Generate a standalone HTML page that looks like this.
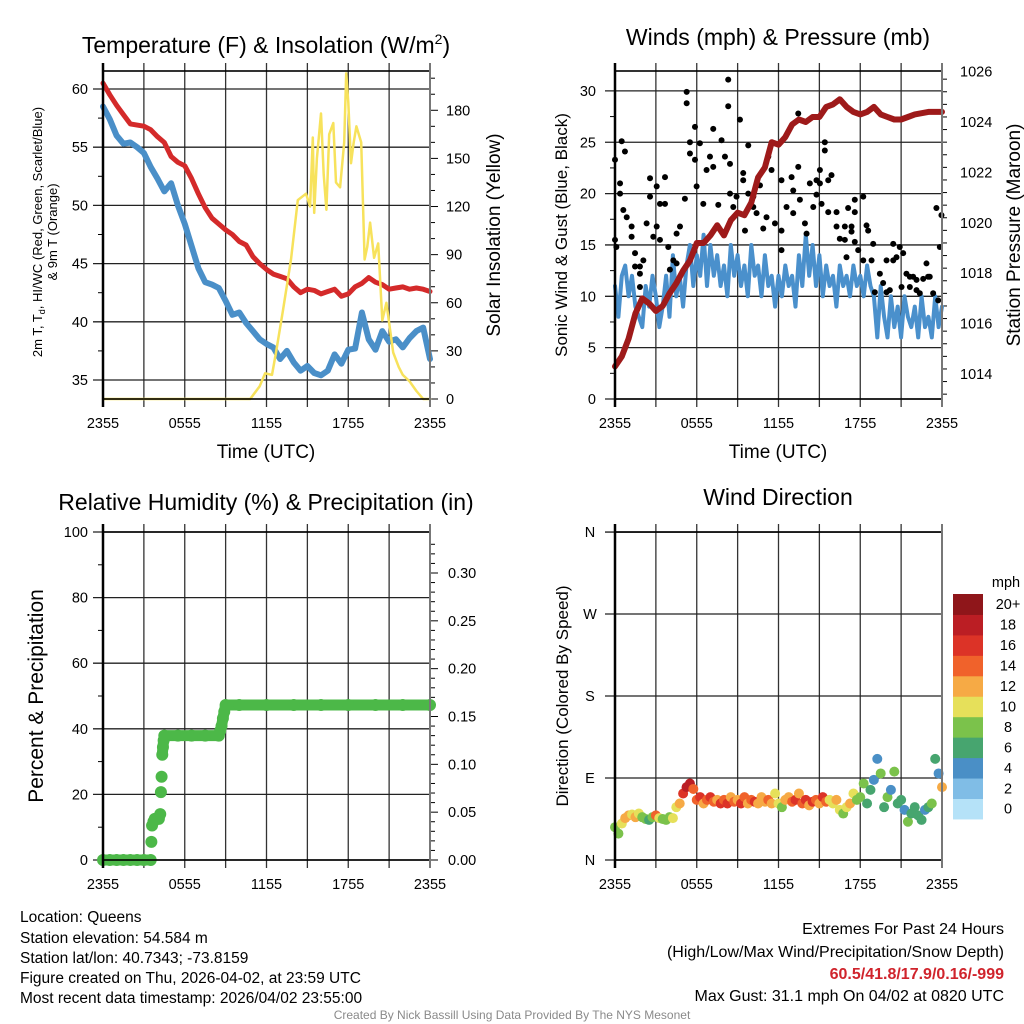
<!DOCTYPE html>
<html><head><meta charset="utf-8"><style>
html,body{margin:0;padding:0;background:#fff}
svg{display:block;font-family:"Liberation Sans",Arial,sans-serif}
</style></head><body>
<svg id="fig" width="1024" height="1024" viewBox="0 0 1024 1024" xmlns="http://www.w3.org/2000/svg">
<rect width="1024" height="1024" fill="#fff"/>
<g id="p1"></g>
<g id="p2"></g>
<g id="p3"></g>
<g id="p4"></g>
<text x="266" y="53" font-size="23" text-anchor="middle">Temperature (F) &amp; Insolation (W/m<tspan font-size="14" dy="-9">2</tspan><tspan dy="9">)</tspan></text>
<text x="778" y="45" font-size="23" text-anchor="middle">Winds (mph) &amp; Pressure (mb)</text>
<text x="266" y="510" font-size="23" text-anchor="middle">Relative Humidity (%) &amp; Precipitation (in)</text>
<text x="778" y="505" font-size="23" text-anchor="middle">Wind Direction</text>
<text x="266" y="458" font-size="19" text-anchor="middle">Time (UTC)</text>
<text x="778" y="458" font-size="19" text-anchor="middle">Time (UTC)</text>
<text transform="translate(42,232) rotate(-90)" font-size="13" text-anchor="middle">2m T, T<tspan font-size="9" dy="3">d</tspan><tspan dy="-3">, HI/WC (Red, Green, Scarlet/Blue)</tspan></text>
<text transform="translate(57,232) rotate(-90)" font-size="13" text-anchor="middle">&amp; 9m T (Orange)</text>
<text transform="translate(500,235) rotate(-90)" font-size="19" text-anchor="middle">Solar Insolation (Yellow)</text>
<text transform="translate(567,235) rotate(-90)" font-size="17" text-anchor="middle">Sonic Wind &amp; Gust (Blue, Black)</text>
<text transform="translate(1020,235) rotate(-90)" font-size="19" text-anchor="middle">Station Pressure (Maroon)</text>
<text transform="translate(43,696) rotate(-90)" font-size="21" text-anchor="middle">Percent &amp; Precipitation</text>
<text transform="translate(568,696) rotate(-90)" font-size="17" text-anchor="middle">Direction (Colored By Speed)</text>
<g font-size="15.5">
<text x="20" y="922">Location: Queens</text>
<text x="20" y="943">Station elevation: 54.584 m</text>
<text x="20" y="963">Station lat/lon: 40.7343; -73.8159</text>
<text x="20" y="983">Figure created on Thu, 2026-04-02, at 23:59 UTC</text>
<text x="20" y="1003">Most recent data timestamp: 2026/04/02 23:55:00</text>
</g>
<g font-size="16" text-anchor="end">
<text x="1004" y="934">Extremes For Past 24 Hours</text>
<text x="1004" y="957">(High/Low/Max Wind/Precipitation/Snow Depth)</text>
<text x="1004" y="979" fill="#d0242c" font-weight="bold">60.5/41.8/17.9/0.16/-999</text>
<text x="1004" y="1001">Max Gust: 31.1 mph On 04/02 at 0820 UTC</text>
</g>
<text x="512" y="1019" font-size="12" fill="#8a8a8a" text-anchor="middle">Created By Nick Bassill Using Data Provided By The NYS Mesonet</text>
</svg>
<script>
const timeTicks = ["2355","0555","1155","1755","2355"];
const tempHours = [0,0.5,1,1.5,2,2.5,3,3.5,4,4.5,5,5.5,6,6.5,7,7.5,8,8.5,9,9.5,10,10.5,11,11.5,12,12.5,13,13.5,14,14.5,15,15.5,16,16.5,17,17.5,18,18.5,19,19.5,20,20.5,21,21.5,22,22.5,23,23.5,24];
const tempVals = [60.5,59.5,58.6,57.8,57.0,56.9,56.8,56.5,55.9,55.4,54.2,53.7,53.4,52.3,51.0,49.8,48.9,48.4,47.9,47.5,46.9,46.6,45.6,45.0,44.5,44.1,43.9,43.7,43.0,42.5,42.8,42.7,42.4,42.6,42.8,42.2,42.4,43.0,43.3,43.8,43.4,43.2,42.8,42.9,43.0,42.8,42.9,42.8,42.6];
const dewVals = [58.5,57.4,56.0,55.3,55.4,55.0,54.5,53.3,52.3,51.2,51.9,50.0,48.4,46.5,44.6,43.4,43.2,42.9,41.8,40.6,40.8,39.9,39.2,38.5,38.1,37.8,36.8,37.5,36.5,35.8,36.2,35.6,35.4,35.8,37.2,36.4,37.6,37.7,40.8,38.5,37.6,39.2,38.3,38.5,37.8,38.6,39.2,39.5,36.8];
const tempTicks = [35,40,45,50,55,60];
const solarHours = [0,10.8,11.5,11.9,12.4,12.7,13.2,13.8,14.3,14.9,15.2,15.4,15.5,15.7,16.0,16.2,16.4,16.6,16.9,17.1,17.4,17.7,17.85,18.0,18.2,18.4,18.6,18.95,19.2,19.4,19.6,19.9,20.2,20.5,20.8,21.3,21.7,22.0,22.5,23.0,23.5,24];
const solarVals = [0,0,8,16,15,29,55,87,124,128,120,163,116,150,178,140,118,165,172,135,132,160,203,185,147,160,170,160,87,95,110,88,97,49,60,29,20,15,11,5,0,0];
const solarTicks = [0,30,60,90,120,150,180];
const windHours = []; for (let i=0;i<=96;i++) windHours.push(i/4);
const windVals = [11,8,12,13,10,12,9,8,7, 11,9,12,10,7,9,12, 8,14,10,12, 9,13,15,11, 14,12,16,11,15,12,14,11, 13,10,15,12,14,11,13,10, 15,12,13,10,14,11,12,9, 12,10,13,11,12,9,14,11, 16,12,15,11,14,10,13,11, 12,9,13,11,12,10,13,11, 12,10,13,11,10,6,11,8, 6,10,7,9,6,10,8,7, 9,6,10,7,8,6,10,7,9];
const pressureVals = [1014.3,1014.7,1015.4,1016.4,1017.0,1016.8,1016.5,1016.7,1017.2,1017.6,1018.1,1018.5,1019.2,1019.2,1019.5,1019.9,1019.5,1020.1,1020.4,1020.3,1020.8,1021.8,1022.2,1023.2,1023.1,1023.4,1023.9,1024.1,1024.0,1024.2,1024.2,1024.6,1024.7,1024.9,1024.6,1024.4,1024.3,1024.4,1024.6,1024.3,1024.2,1024.1,1024.1,1024.2,1024.3,1024.35,1024.4,1024.4,1024.4];
const gustHours = [0,0,0.1,0.37,0.37,0.49,0.61,0.73,0.86,1.22,1.22,1.47,1.47,1.83,1.83,1.83,2.08,2.32,2.57,2.57,2.81,3.06,3.06,3.30,3.30,3.67,3.67,3.91,4.03,4.28,4.52,4.52,4.77,5.13,5.26,5.26,5.50,5.50,5.87,5.87,5.99,6.23,6.48,6.72,6.97,7.21,7.21,7.58,7.82,8.07,8.31,8.31,8.44,8.44,8.68,8.92,9.17,9.41,9.41,9.54,9.78,9.78,10.15,10.15,10.39,10.64,10.88,11.12,11.25,11.49,11.74,12.22,12.22,12.22,12.59,12.96,13.08,13.08,13.45,13.45,13.57,13.94,14.06,14.30,14.55,14.79,14.79,15.04,15.04,15.16,15.40,15.40,15.65,15.65,15.89,16.26,16.26,16.50,16.87,16.87,16.99,17.11,17.36,17.36,17.60,17.60,17.60,17.85,18.22,18.22,18.46,18.58,18.83,18.95,19.07,19.44,19.68,19.93,19.93,20.17,20.42,20.42,20.66,20.90,21.03,21.15,21.39,21.64,21.64,21.88,22.13,22.13,22.37,22.62,22.86,22.98,23.10,23.35,23.59,23.72,23.84,23.96];
const gustVals = [23.3,15.5,14.8,21.0,20.0,25.1,18.4,24.1,17.7,16.8,15.8,14.2,12.9,12.9,12.2,10.9,13.5,17.1,21.5,19.7,15.8,20.7,16.8,19.0,15.5,21.6,19.0,14.8,12.6,13.5,16.1,13.2,16.8,19.5,28.8,29.9,25.0,23.9,26.5,23.3,20.7,24.9,19.0,22.3,23.6,26.3,22.6,18.9,25.2,23.6,28.5,31.1,22.9,20.0,18.7,19.7,27.2,22.0,21.3,16.4,24.7,20.0,19.7,18.7,18.1,20.8,16.6,17.7,23.6,22.3,17.1,21.3,16.4,14.5,18.7,21.6,20.3,18.1,27.8,22.6,19.4,17.1,16.1,21.0,18.7,21.3,19.9,22.3,21.0,19.0,25.0,24.2,21.3,18.2,21.8,18.2,16.8,15.6,16.8,15.5,13.8,18.6,16.8,16.3,19.4,18.2,15.3,14.5,19.7,13.5,16.9,16.4,13.5,15.1,10.4,12.2,11.3,13.5,10.4,10.6,15.1,13.5,13.8,14.8,10.9,14.2,12.2,11.9,10.9,11.9,11.6,10.6,10.3,11.7,13.2,11.9,11.9,10.3,18.6,9.6,14.8,17.9];
const windTicks = [0,5,10,15,20,25,30];
const pressureTicks = [1014,1016,1018,1020,1022,1024,1026];
const precipHours = [0,0.5,1,1.5,2,2.5,3,3.5,3.55,3.6,3.7,3.8,4.1,4.2,4.25,4.3,4.35,4.4,4.45,4.5,5.5,6.5,7.5,8.5,8.6,8.7,8.8,8.9,9.0,10,12,14,16,18,20,22,24];
const precipVals = [0,0,0,0,0,0,0,0,0.019,0.036,0.04,0.043,0.043,0.048,0.071,0.087,0.11,0.118,0.125,0.13,0.13,0.13,0.13,0.13,0.135,0.14,0.148,0.155,0.162,0.162,0.162,0.162,0.162,0.162,0.162,0.162,0.162];
const rhTicks = [0,20,40,60,80,100];
const precipTicks = ["0.00","0.05","0.10","0.15","0.20","0.25","0.30"];
const dirVals = [36,29,40,46, 49,50,47,51, 47,45,44,47, 49,46,45,44, 47,46,58,62, 73,80,84,78, 66,69,62,66, 69,64,66,62, 66,62,69,64, 66,62,69,62, 66,64,62,69, 64,66,62,73, 62,58,66,69, 64,66,73,62, 66,60,64,66, 62,69,64,66, 62,66,55,51, 58,62,73,66, 69,84,62,77, 88,111,95,58, 69,77,97,62, 66,55,42,51, 58,49,44,55, 58,62,111,95, 80];
const dirSpeeds = [9,8,10,12, 12,11,13,10, 9,8,7,9, 14,10,9,8, 9,10,11,13, 17,18,19,15, 14,16,13,15, 17,14,12,16, 15,17,13,14, 12,16,14,13, 14,16,12,13, 12,15,13,10, 11,9,12,13, 15,17,12,14, 16,13,17,15, 12,16,14,11, 10,12,11,9, 10,12,11,8, 9,8,7,6, 5,4,8,7, 8,4,9,7, 6,4,8,7, 6,7,6,5, 7,8,6,4, 13];
const dirTicks = ["N","E","S","W","N"];
const speedLabels = ["0","2","4","6","8","10","12","14","16","18","20+"];
const speedColors = ["#b5e2f8","#80bde6","#4a8fc6","#47a56f","#7bc24b","#e6e05a","#f6aa45","#f0622b","#dc3327","#bb1e24","#8f161a"];

const NS="http://www.w3.org/2000/svg";
function mk(parent, tag, attrs){const e=document.createElementNS(NS,tag);for(const k in attrs)e.setAttribute(k,attrs[k]);parent.appendChild(e);return e;}
const L1=103,R1=430,L2=615,R2=942;
function xs(L,R){return h=>L+(R-L)*h/24;}

function frame(g,L,R,T,B,prefix){
  const x=xs(L,R);
  for(let h=3;h<24;h+=3){const ln=mk(g,'line',{x1:x(h),x2:x(h),y1:T-8,y2:B+8,stroke:'#333','stroke-width':1.3});
    
    }
  timeTicks.forEach((t,i)=>{const tx=mk(g,'text',{x:x(i*6),y:B+29,'font-size':14.5,'text-anchor':'middle'});tx.textContent=t;
    
    });
}
function border(g,L,R,T,B,prefix){
  const r=mk(g,'rect',{x:L,y:T,width:R-L,height:B-T,fill:'none',stroke:'#000','stroke-width':1.6});
  
  
  mk(g,'line',{x1:L,x2:L,y1:T-8,y2:B+8,stroke:'#000','stroke-width':2.5});
  mk(g,'line',{x1:R,x2:R,y1:T-8,y2:B+8,stroke:'#777','stroke-width':2});
}
function hgrid(g,L,R,y,prefix){const ln=mk(g,'line',{x1:L-10,x2:R,y1:y,y2:y,stroke:'#222','stroke-width':1.3});
  
  }
function lbl(g,x,y,t,anchor,name,size){const tx=mk(g,'text',{x:x,y:y+5,'font-size':size||14.5,'text-anchor':anchor});tx.textContent=t;
  
  }
function pline(g,xsArr,ysArr,color,w,name){
  const p=mk(g,'polyline',{points:xsArr.map((v,i)=>v.toFixed(1)+','+ysArr[i].toFixed(1)).join(' '),fill:'none',stroke:color,'stroke-width':w,'stroke-linejoin':'round','stroke-linecap':'round'});
  
  
}

// Panel 1
(function(){
  const g=document.getElementById('p1');const T=71,B=399;const x=xs(L1,R1);
  const yT=v=>380-(v-35)*11.64; const yS=v=>399-v*1.604;
  frame(g,L1,R1,T,B,'temp');
  tempTicks.forEach(v=>{hgrid(g,L1,R1,yT(v),'temp');lbl(g,88,yT(v),String(v),'end','temp-y-tick-label');});
  for(let v=37.5;v<61;v+=5)mk(g,'line',{x1:L1-5,x2:L1,y1:yT(v),y2:yT(v),stroke:'#000'});
  for(let v=0;v<=200;v+=10)mk(g,'line',{x1:R1,x2:R1+(v%30===0?8:5),y1:yS(v),y2:yS(v),stroke:'#000'});
  solarTicks.forEach(v=>lbl(g,446,yS(v),String(v),'start','solar-y-tick-label'));
  pline(g,tempHours.map(x),dewVals.map(yT),'#4a8fc8',6,'dewpoint-line');
  pline(g,tempHours.map(x),tempVals.map(yT),'#d42a2a',5,'temperature-line');
  pline(g,solarHours.map(x),solarVals.map(yS),'#f7e25c',2.5,'solar-insolation-line');
  border(g,L1,R1,T,B,'temp');
})();
// Panel 2
(function(){
  const g=document.getElementById('p2');const T=71,B=399;const x=xs(L2,R2);
  const yW=v=>399-v*10.27; const yP=p=>122-(p-1024)*25.2;
  frame(g,L2,R2,T,B,'wind');
  windTicks.forEach(v=>{hgrid(g,L2,R2,yW(v),'wind');lbl(g,596,yW(v),String(v),'end','wind-y-tick-label');});
  for(let v=2.5;v<32;v+=5)mk(g,'line',{x1:L2-5,x2:L2,y1:yW(v),y2:yW(v),stroke:'#000'});
  for(let p=1013.2;p<=1026;p+=0.5){const maj=Math.abs(p-Math.round(p))<0.01&&Math.round(p)%2===0;mk(g,'line',{x1:R2,x2:R2+(maj?8:5),y1:yP(p),y2:yP(p),stroke:'#000'});}
  pressureTicks.forEach(v=>lbl(g,960,yP(v),String(v),'start','pressure-y-tick-label'));
  pline(g,windHours.map(x),windVals.map(yW),'#4a90cc',4,'sonic-wind-line');
  gustHours.forEach((h,i)=>{const c=mk(g,'circle',{cx:x(h),cy:yW(gustVals[i]),r:3,fill:'#000'});
    
    });
  pline(g,tempHours.map(x),pressureVals.map(yP),'#9e1a1a',6,'pressure-line');
  border(g,L2,R2,T,B,'wind');
})();
// Panel 3
(function(){
  const g=document.getElementById('p3');const T=532,B=860;const x=xs(L1,R1);
  const yR=v=>860-v*3.28; const yPr=v=>860-v*956.7;
  frame(g,L1,R1,T,B,'humidity');
  rhTicks.forEach(v=>{hgrid(g,L1,R1,yR(v),'humidity');lbl(g,88,yR(v),String(v),'end','humidity-y-tick-label');});
  for(let v=10;v<100;v+=20)mk(g,'line',{x1:L1-5,x2:L1,y1:yR(v),y2:yR(v),stroke:'#000'});
  for(let v=0;v<=0.34;v+=0.01){const maj=Math.round(v*100)%5===0;mk(g,'line',{x1:R1,x2:R1+(maj?8:5),y1:yPr(v),y2:yPr(v),stroke:'#000'});}
  precipTicks.forEach(t=>lbl(g,448,yPr(parseFloat(t)),t,'start','precip-y-tick-label'));
  for(let i=1;i<precipHours.length;i++){
    if(Math.abs(precipVals[i]-precipVals[i-1])<0.008){
      const s=mk(g,'line',{x1:x(precipHours[i-1]),x2:x(precipHours[i]),y1:yPr(precipVals[i-1]),y2:yPr(precipVals[i]),stroke:'#4cb848','stroke-width':11,'stroke-linecap':'round'});
      
      
    }
  }
  precipHours.forEach((h,i)=>{const c=mk(g,'circle',{cx:x(h),cy:yPr(precipVals[i]),r:6,fill:'#4cb848'});
    
    });
  border(g,L1,R1,T,B,'humidity');
})();
// Panel 4
(function(){
  const g=document.getElementById('p4');const T=532,B=860;const x=xs(L2,R2);
  const yD=d=>860-d*0.911;
  frame(g,L2,R2,T,B,'direction');
  dirTicks.forEach((t,i)=>{hgrid(g,L2,R2,yD(i*90),'direction');lbl(g,590,yD(i*90),t,'middle','direction-y-tick-label');});
  const col=s=>speedColors[Math.min(10,Math.max(0,Math.floor(s/2)))];
  windHours.forEach((h,i)=>{const c=mk(g,'circle',{cx:x(h),cy:yD(dirVals[i]),r:5,fill:col(dirSpeeds[i])});
    
    });
  border(g,L2,R2,T,B,'direction');
  const top=594,bh=20.45;
  const mph=mk(g,'text',{x:1006,y:587,'font-size':14.5,'text-anchor':'middle'});mph.textContent='mph';
  
  
  speedLabels.forEach((t,i)=>{const k=10-i;const yy=top+k*bh;
    const r=mk(g,'rect',{x:953,y:yy,width:30,height:bh+0.5,fill:speedColors[i]});
    
    
    lbl(g,1008,yy+bh/2,t,'middle','colorbar-label');});
})();
</script>
</body></html>
